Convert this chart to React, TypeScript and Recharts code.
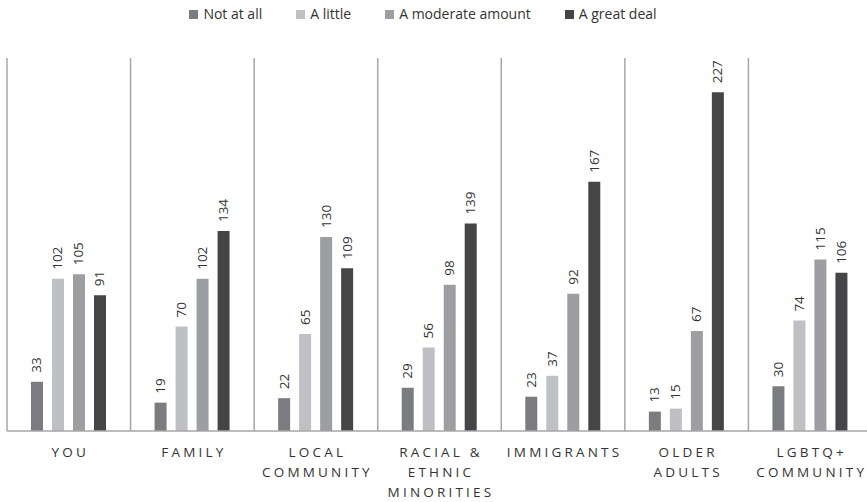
import React from "react";
import { Bar, BarChart, CartesianGrid, LabelList, Legend, XAxis, YAxis } from "recharts";

const categories = [
  "YOU",
  "FAMILY",
  "LOCAL\nCOMMUNITY",
  "RACIAL &\nETHNIC\nMINORITIES",
  "IMMIGRANTS",
  "OLDER\nADULTS",
  "LGBTQ+\nCOMMUNITY",
];
const notAtAll = [33, 19, 22, 29, 23, 13, 30];
const aLittle = [102, 70, 65, 56, 37, 15, 74];
const moderate = [105, 102, 130, 98, 92, 67, 115];
const greatDeal = [91, 134, 109, 139, 167, 227, 106];

const series = [
  { key: "notAtAll", name: "Not at all", color: "#7b7c80" },
  { key: "aLittle", name: "A little", color: "#bfc0c3" },
  { key: "moderate", name: "A moderate amount", color: "#9d9ea1" },
  { key: "greatDeal", name: "A great deal", color: "#454547" },
];

const data = categories.map((c, i) => ({
  category: c,
  notAtAll: notAtAll[i],
  aLittle: aLittle[i],
  moderate: moderate[i],
  greatDeal: greatDeal[i],
}));

const FONT = "'Open Sans', 'Noto Sans', sans-serif";

function CategoryTick({ x, y, payload }: any) {
  const lines = String(payload.value).split("\n");
  return (
    <text
      x={x}
      y={y}
      textAnchor="middle"
      fill="#333333"
      fontSize={13.5}
      fontFamily={FONT}
      letterSpacing={3.2}
    >
      {lines.map((l, i) => (
        <tspan key={i} x={x + 1.5} dy={i === 0 ? 18 : 20}>
          {l}
        </tspan>
      ))}
    </text>
  );
}

function ValueLabel({ x, y, width, value }: any) {
  const cx = x + width / 2 + 4.5;
  const cy = y - 9;
  return (
    <text
      x={cx}
      y={cy}
      transform={`rotate(-90 ${cx} ${cy})`}
      textAnchor="start"
      fill="#333333"
      fontSize={13.5}
      fontFamily={FONT}
    >
      {value}
    </text>
  );
}

function LegendContent() {
  return (
    <div
      style={{
        display: "flex",
        justifyContent: "center",
        fontFamily: FONT,
        fontSize: 14,
        color: "#333333",
        lineHeight: "18px",
      }}
    >
      {series.map((s) => (
        <div key={s.key} style={{ display: "flex", alignItems: "center", marginRight: 34 }}>
          <span
            style={{
              display: "inline-block",
              width: 9,
              height: 9,
              background: s.color,
              marginRight: 5,
            }}
          />
          {s.name}
        </div>
      ))}
    </div>
  );
}

export default function App() {
  return (
    <div style={{ position: "absolute", left: 0, top: 0, width: 867, height: 502, overflow: "hidden", background: "#fff" }}>
      <BarChart
        width={880}
        height={502}
        data={data}
        margin={{ top: 40, right: 8, left: 7, bottom: 11 }}
        barSize={12}
        barGap={9}
      >
        <CartesianGrid
          horizontal={false}
          stroke="#a6a6a6"
          strokeWidth={1.5}
          verticalCoordinatesGenerator={({ offset }: any) =>
            categories.map((_, i) => offset.left + (i * offset.width) / categories.length)
          }
        />
        <XAxis
          dataKey="category"
          axisLine={{ stroke: "#a6a6a6", strokeWidth: 1.5 }}
          tickLine={false}
          tick={<CategoryTick />}
          interval={0}
          height={60}
        />
        <YAxis hide domain={[0, 250]} />
        <Legend
          verticalAlign="top"
          content={<LegendContent />}
          wrapperStyle={{ top: 5, left: 0, width: 880 }}
        />
        {series.map((s) => (
          <Bar key={s.key} dataKey={s.key} name={s.name} fill={s.color} isAnimationActive={false}>
            <LabelList dataKey={s.key} content={<ValueLabel />} />
          </Bar>
        ))}
      </BarChart>
    </div>
  );
}
